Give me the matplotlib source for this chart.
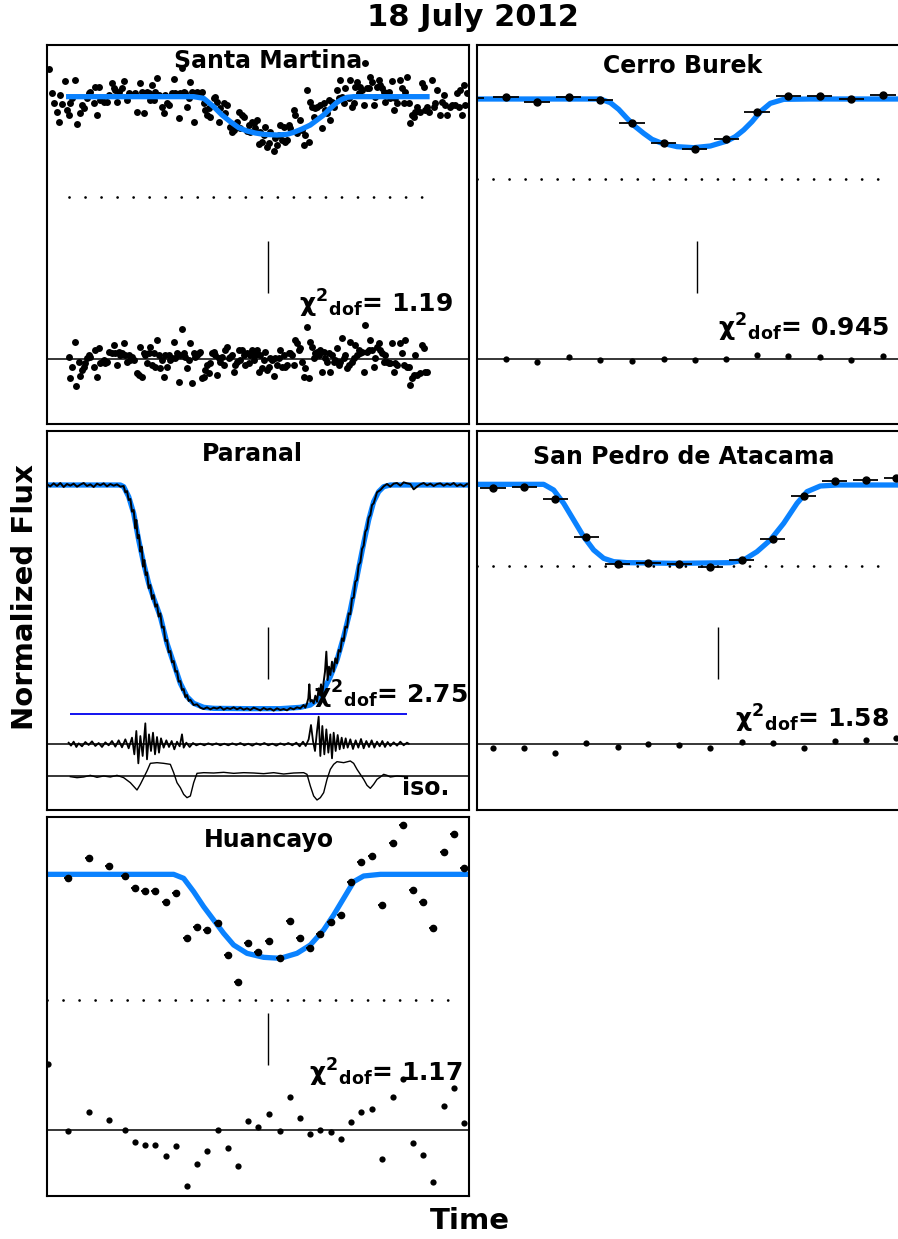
import numpy as np
import matplotlib.pyplot as plt

# time in cadence units, flux offsets in units of ~0.01 % (out-of-transit = 0)

# Santa Martina
sm_data = [(5,83),(15,10),(20,-20),(30,-45),(35,-77),(40,5),(45,-23),(55,47),(60,-40),(65,-55),(70,-20),(75,-5),(85,50),(90,-82),(100,-50),(105,-25),(110,-35),(120,-5),(125,10),(130,15),(140,-20),(145,30),(150,-55),(155,30),(160,-10),(170,-15),(180,-15),(185,5),(195,40),(200,25),(205,20),(210,-15),(215,15),(225,25),(230,47),(240,-10),(245,10),(255,5),(265,10),(270,-45),(280,40),(285,15),(290,-50),(300,15),(305,10),(310,-10),(315,35),(320,-10),(325,15),(330,55),(335,5),(345,-30),(350,-50),(355,5),(360,-20),(365,-25),(375,10),(380,52),(385,10),(395,-65),(400,10),(405,85),(410,15),(415,10),(420,-30),(425,-5),(430,45),(435,15),(440,-77),(450,15),(460,5),(465,15),(470,-20),(475,-40),(480,-55),(485,-35),(490,-60),(500,-5),(505,0),(510,-15),(515,-75),(520,-35),(530,-20),(535,-50),(540,-25),(550,-90),(555,-105),(560,-100),(570,-75),(575,-45),(580,-95),(585,-55),(590,-60),(600,-103),(605,-85),(610,-105),(615,-75),(620,-80),(625,-95),(630,-70),(635,-143),(640,-105),(645,-135),(650,-115),(655,-90),(660,-150),(665,-140),(670,-105),(680,-163),(685,-125),(690,-145),(695,-115),(700,-85),(705,-130),(710,-90),(715,-135),(720,-130),(725,-85),(730,-95),(740,-40),(745,-55),(750,-110),(760,-70),(765,-100),(770,-145),(775,-115),(780,20),(785,-135),(790,-15),(795,-30),(800,-60),(805,-35),(810,-30),(820,-25),(825,-95),(830,-20),(835,-40),(840,-50),(845,-10),(850,-70),(855,-15),(860,-30),(870,20),(875,-5),(880,50),(885,0),(890,-20),(895,25),(905,-5),(910,50),(915,-30),(920,-20),(925,30),(930,45),(935,10),(940,30),(945,20),(950,-25),(955,100),(960,25),(965,25),(970,60),(975,45),(980,-25),(985,0),(990,30),(995,50),(1000,35),(1005,25),(1010,15),(1015,-15),(1020,10),(1025,15),(1030,-5),(1035,47),(1040,-40),(1045,-5),(1050,-20),(1060,50),(1065,25),(1070,-20),(1075,15),(1080,58),(1085,-20),(1090,-80),(1095,-55),(1100,-60),(1105,-45),(1110,-30),(1120,-45),(1125,40),(1130,30),(1135,-40),(1140,-30),(1145,-45),(1155,50),(1160,-30),(1165,-20),(1170,20),(1180,-55),(1185,-15),(1190,5),(1195,-25),(1200,-55),(1210,-30),(1215,-25),(1225,-25),(1230,10),(1235,-30),(1240,20),(1245,-55),(1250,35),(1255,-25),(1260,10)]
sm_resid = [(65,6),(70,-55),(75,-22),(85,53),(88,-80),(95,-7),(100,-50),(105,-32),(110,-22),(115,-12),(120,3),(125,13),(130,8),(140,-22),(145,28),(150,-54),(155,33),(160,-12),(165,-7),(170,-2),(175,-12),(180,-7),(185,23),(195,18),(200,43),(205,18),(210,-17),(215,23),(220,13),(225,18),(230,48),(235,13),(240,-7),(245,13),(250,-2),(255,8),(260,-2),(270,-42),(275,-47),(280,38),(285,-52),(290,18),(295,13),(300,-12),(305,18),(310,38),(315,-17),(320,18),(325,-22),(330,58),(335,13),(340,-27),(345,-2),(350,-52),(355,13),(360,-22),(365,13),(370,-2),(375,3),(380,53),(385,3),(390,18),(395,-67),(400,13),(405,90),(410,18),(415,8),(420,-27),(425,-2),(430,48),(435,-72),(440,18),(445,8),(450,13),(455,18),(460,23),(465,-57),(470,-52),(475,-32),(480,-17),(485,-42),(490,-12),(495,18),(500,23),(505,13),(510,-47),(515,3),(520,-7),(525,8),(530,-17),(535,28),(540,38),(545,3),(550,8),(555,13),(560,-37),(565,-17),(570,-7),(575,28),(580,-2),(585,28),(590,13),(595,-17),(600,18),(605,-12),(610,13),(615,28),(620,-2),(625,13),(630,28),(635,-37),(640,13),(645,-27),(650,-2),(655,23),(660,-32),(665,-22),(670,3),(675,-2),(680,-50),(685,3),(690,-17),(695,3),(700,28),(705,-22),(710,13),(715,-22),(720,-17),(725,18),(730,18),(735,13),(740,-17),(745,58),(750,48),(755,28),(760,33),(765,-7),(770,-52),(775,-27),(780,98),(785,-57),(790,53),(795,38),(800,3),(805,18),(810,23),(815,13),(820,28),(825,-37),(830,23),(835,3),(840,-7),(845,18),(850,-37),(855,13),(860,-7),(865,-2),(870,33),(875,-17),(880,-7),(885,63),(890,3),(895,13),(900,-27),(905,-17),(910,53),(915,-7),(920,3),(925,43),(930,13),(935,28),(940,18),(945,23),(950,-37),(955,103),(960,23),(965,28),(970,58),(975,28),(980,-22),(985,3),(990,38),(995,48),(1000,28),(1005,18),(1010,-7),(1015,13),(1020,-7),(1025,-12),(1030,-12),(1035,48),(1040,-37),(1045,-12),(1050,-17),(1060,48),(1065,18),(1070,-17),(1075,58),(1080,-22),(1085,-22),(1090,-77),(1095,-57),(1100,-47),(1105,13),(1110,-47),(1120,-42),(1125,43),(1130,33),(1135,-37),(1140,-37)]
sm_model = [(65,0),(440,0),(470,-5),(500,-30),(525,-55),(550,-75),(575,-93),(600,-103),(625,-109),(650,-113),(690,-115),(720,-113),(740,-107),(765,-97),(790,-85),(810,-70),(830,-55),(850,-35),(870,-17),(885,-8),(900,-2),(920,0),(1140,0)]

# Cerro Burek
cb_data = [(-18,2),(87,5),(180,-8),(275,7),(370,-4),(465,-71),(560,-131),(653,-150),(748,-121),(840,-38),(934,9),(1028,9),(1123,-1),(1218,11)]
cb_resid = [(87,2),(180,-9),(275,6),(370,-2),(465,-6),(560,1),(653,-2),(748,0),(840,13),(934,9),(1028,7),(1123,-3),(1218,11)]
cb_model = [(0,0),(370,0),(400,-11),(425,-31),(450,-58),(475,-83),(500,-103),(525,-121),(550,-131),(600,-143),(650,-146),(700,-141),(750,-126),(775,-113),(800,-93),(825,-68),(850,-38),(880,-13),(920,-1),(1000,0),(1272,0)]

# Paranal
pa_data = [(0,2),(10,-4),(20,5),(30,-3),(40,6),(50,-6),(60,3),(70,-2),(80,4),(90,-5),(100,1),(110,6),(120,-3),(130,2),(140,-6),(150,4),(160,-1),(170,5),(180,-4),(190,3),(200,-2),(210,2),(220,-5),
           (230,-3),(235,-22),(240,-18),(245,-45),(250,-42),(255,-80),(260,-75),(265,-130),(268,-105),(272,-160),(276,-150),(280,-200),(284,-185),(288,-245),(292,-225),(296,-270),(300,-262),(305,-310),(310,-300),(315,-342),(320,-330),(325,-365),(330,-358),(335,-395),(340,-385),(345,-428),(350,-425),(355,-468),(360,-465),(365,-502),(370,-498),(375,-532),(380,-528),(385,-560),(390,-558),(395,-590),(400,-588),(405,-615),(410,-612),(415,-636),(420,-630),(425,-648),(430,-644),(440,-660),(450,-658),(460,-668),
           (470,-672),(480,-667),(490,-673),(500,-668),(510,-671),(520,-666),(530,-674),(540,-669),(550,-672),(560,-667),(570,-673),(580,-668),(590,-674),(600,-670),(610,-675),(620,-668),(630,-672),(640,-676),(650,-669),(660,-674),(670,-671),(680,-677),(690,-670),(700,-675),(710,-672),(720,-676),(730,-669),(740,-673),(750,-667),(760,-670),
           (770,-660),(775,-668),(780,-655),(784,-640),(787,-598),(790,-650),(795,-645),(800,-655),(805,-632),(810,-650),(815,-610),(818,-630),(822,-598),(826,-628),(830,-590),(834,-560),(838,-500),(842,-585),(846,-545),(850,-570),(855,-530),(860,-560),(865,-520),(870,-535),(875,-495),(880,-500),(885,-460),(890,-468),(895,-425),(900,-428),(905,-385),(910,-388),(915,-340),(920,-338),(925,-290),(930,-285),(935,-240),(940,-232),(945,-192),(950,-182),(955,-140),(960,-132),(965,-98),(970,-90),(975,-60),(980,-55),(990,-22),(1000,-15),
           (1010,-4),(1020,3),(1030,-5),(1040,4),(1050,6),(1060,-2),(1070,8),(1080,5),(1090,3),(1100,-13),(1110,-5),(1120,2),(1130,6),(1140,-1),(1150,4),(1160,-3),(1170,3),(1180,5),(1190,-2),(1200,4),(1210,0),(1220,6),(1230,-3),(1240,2),(1250,-4),(1260,3)]
pa_model = [(0,0),(220,0),(230,-5),(245,-35),(260,-85),(275,-165),(290,-235),(305,-295),(320,-340),(340,-395),(360,-475),(380,-535),(400,-595),(420,-635),(440,-655),(470,-667),(500,-670),(600,-671),(700,-671),(760,-667),(790,-660),(810,-645),(830,-615),(850,-575),(870,-525),(890,-455),(910,-375),(930,-275),(950,-175),(965,-105),(980,-50),(995,-20),(1010,-5),(1030,0),(1266,0)]
pa_resid = [(65,5),(72,-4),(80,8),(88,-8),(95,3),(105,-6),(115,7),(125,-2),(135,9),(145,-5),(155,4),(165,-8),(175,6),(185,-3),(195,10),(205,-7),(215,12),(225,-9),(235,15),(245,-12),(255,20),(262,-30),(268,40),(274,-57),(280,25),(287,-35),(295,63),(300,-45),(306,30),(312,-20),(318,35),(324,-30),(330,22),(336,-25),(342,18),(350,-10),(358,12),(366,-8),(374,10),(382,-15),(390,8),(398,-6),(405,30),(410,-10),(418,5),(428,-8),(438,4),(448,-3),(460,2),(472,-3),(484,3),(496,-2),(508,3),(520,-3),(532,2),(544,-3),(556,3),(568,-2),(580,4),(592,-3),(604,2),(616,-4),(628,3),(640,-2),(652,4),(664,-3),(676,2),(688,-4),(700,3),(712,-2),(724,4),(736,-3),(748,5),(758,-6),(768,8),(776,-5),(785,15),(792,58),(798,10),(804,-20),(810,40),(815,83),(820,-35),(826,55),(832,-30),(838,45),(844,-25),(850,30),(855,-42),(860,35),(866,-20),(872,28),(878,-15),(884,20),(890,-12),(896,18),(902,-10),(910,15),(918,-14),(926,12),(934,-10),(942,16),(950,-12),(958,10),(966,-8),(974,12),(982,-10),(990,8),(998,-6),(1006,10),(1014,-8),(1022,7),(1030,-5),(1040,6),(1050,-4),(1060,8),(1070,-3),(1080,5),(1085,2)]
pa_iso = [(70,-2),(90,-5),(110,-3),(130,2),(150,-4),(170,0),(190,-3),(210,2),(230,-5),(250,-20),(270,-42),(280,-25),(290,-5),(300,15),(310,38),(330,40),(350,38),(370,35),(380,10),(390,-20),(400,-35),(410,-55),(420,-65),(430,-60),(440,-20),(450,8),(470,10),(500,9),(530,11),(560,8),(590,10),(620,9),(650,7),(680,10),(710,6),(740,9),(770,10),(780,5),(790,-30),(800,-60),(810,-72),(820,-65),(830,-50),(840,-10),(850,20),(860,35),(870,43),(890,40),(910,45),(920,38),(930,20),(950,-10),(960,-28),(970,-37),(980,-25),(990,-10),(1000,-3),(1010,5),(1020,2),(1030,-3),(1050,0),(1075,-2)]

# San Pedro de Atacama
sp_data = [(48,-10),(142,-8),(235,-43),(328,-159),(422,-240),(514,-237),(607,-238),(700,-248),(794,-226),(887,-164),(980,-35),(1073,10),(1166,14),(1258,18)]
sp_resid = [(48,-12),(142,-10),(235,-26),(328,3),(422,-7),(514,1),(607,-1),(700,-12),(794,8),(887,3),(980,-12),(1073,11),(1166,14),(1258,19)]
sp_model = [(0,0),(200,0),(230,-17),(260,-57),(290,-107),(320,-157),(350,-197),(380,-222),(410,-232),(450,-235),(600,-237),(760,-235),(800,-227),(840,-202),(880,-167),(920,-117),(960,-57),(990,-22),(1030,-5),(1080,-2),(1272,-2)]

# Huancayo
hu_data = [(63,-10),(125,48),(187,25),(233,-5),(263,-40),(295,-50),(325,-50),(357,-84),(388,-57),(420,-190),(450,-159),(481,-166),(512,-147),(542,-242),(572,-322),(603,-205),(634,-233),(665,-199),(698,-250),(728,-140),(759,-192),(789,-220),(820,-180),(851,-143),(881,-121),(912,-23),(942,38),(974,56),(1006,-93),(1037,94),(1068,149),(1098,-46),(1129,-82),(1159,-161),(1190,68),(1220,122),(1250,18)]
hu_resid = [(2,198),(63,-3),(125,53),(187,29),(233,0),(263,-35),(295,-45),(325,-45),(357,-77),(388,-48),(420,-168),(450,-101),(481,-63),(512,0),(542,-55),(572,-109),(603,26),(634,8),(665,47),(698,-3),(728,98),(759,35),(789,-13),(820,0),(851,-7),(881,-28),(912,24),(942,55),(974,64),(1006,-88),(1037,98),(1068,153),(1098,-40),(1129,-76),(1159,-155),(1190,73),(1220,127),(1250,22)]
hu_model = [(0,0),(380,0),(410,-12),(440,-52),(470,-97),(500,-137),(530,-177),(560,-212),(600,-237),(650,-249),(700,-252),(750,-237),(790,-212),(830,-167),(860,-122),(890,-72),(920,-22),(950,-5),(1000,0),(1266,0)]

chi2 = {'Santa Martina': '1.19', 'Cerro Burek': '0.945', 'Paranal': '2.75',
        'San Pedro de Atacama': '1.58', 'Huancayo': '1.17'}

BLUE = '#0a82ff'
W, H = 898, 1239
fig = plt.figure(figsize=(W / 100, H / 100), dpi=100)


def make_ax(x0, y0, w, top, xmax):
    ax = fig.add_axes([x0 / W, 1 - (y0 + 379) / H, w / W, 379 / H])
    ax.set_xlim(0, xmax)
    ax.set_ylim(top - 1137, top)
    ax.set_xticks([])
    ax.set_yticks([])
    for s in ax.spines.values():
        s.set_linewidth(1.5)
    return ax


def xy(pairs):
    a = np.array(pairs, dtype=float)
    return a[:, 0], a[:, 1]


def chi_text(ax, name, x, y):
    ax.text(x, y, r'$\mathbf{\chi}^{\mathbf{2}}{}_{\mathbf{dof}}$= ' + chi2[name],
            transform=ax.transAxes, ha='right', va='baseline', fontsize=18,
            fontweight='bold')


def dotted(ax, y, x0, x1):
    ax.plot([x0, x1], [y, y], color='k', lw=2, linestyle=(0, (0.01, 5.76)),
            dash_capstyle='round')


def zero(ax, y):
    ax.axhline(y, color='k', lw=1.1)


# ---- Santa Martina
ax = make_ax(47, 45, 422, 155, 1266)
t, f = xy(sm_data)
ax.plot(t, f, 'o', color='k', ms=5, mec='none', zorder=2)
t, f = xy(sm_model)
ax.plot(t, f, color=BLUE, lw=3.8, zorder=3)
dotted(ax, -301, 65, 1140)
ax.vlines(663, -589, -433, color='k', lw=1)
zero(ax, -788)
t, r = xy(sm_resid)
ax.plot(t, r - 788, 'o', color='k', ms=5, mec='none')
ax.text(0.524, 0.958, 'Santa Martina', transform=ax.transAxes, ha='center', va='center',
        fontsize=17, fontweight='bold')
chi_text(ax, 'Santa Martina', 0.963, 0.293)

# ---- Cerro Burek
ax = make_ax(477, 45, 424, 162, 1272)
t, f = xy(cb_model)
ax.plot(t, f, color=BLUE, lw=3.8)
t, f = xy(cb_data)
ax.errorbar(t, f, xerr=38, fmt='o', color='k', ms=5, elinewidth=1.3, capsize=0)
dotted(ax, -240, 0, 1224)
ax.vlines(660, -582, -426, color='k', lw=1)
zero(ax, -781)
t, r = xy(cb_resid)
ax.plot(t, r - 781, 'o', color='k', ms=4.5, mec='none')
ax.text(0.486, 0.945, 'Cerro Burek', transform=ax.transAxes, ha='center', va='center',
        fontsize=17, fontweight='bold')
chi_text(ax, 'Cerro Burek', 0.972, 0.23)

# ---- Paranal
ax = make_ax(47, 431, 422, 162, 1266)
t, f = xy(pa_model)
ax.plot(t, f, color=BLUE, lw=3.8)
t, f = xy(pa_data)
ax.plot(t, f, color='k', lw=1.4)
ax.hlines(-687, 68, 1080, color='#0000ee', lw=1.3)
ax.vlines(663, -582, -426, color='k', lw=1)
zero(ax, -778)
zero(ax, -873)
t, r = xy(pa_resid)
ax.plot(t, r - 778, color='k', lw=1.3)
t, r = xy(pa_iso)
ax.plot(t, r - 873, color='k', lw=1.0)
ax.text(0.486, 0.939, 'Paranal', transform=ax.transAxes, ha='center', va='center',
        fontsize=17, fontweight='bold')
ax.text(0.841, 0.04, 'iso.', transform=ax.transAxes, ha='left', va='baseline',
        fontsize=17, fontweight='bold')
chi_text(ax, 'Paranal', 0.998, 0.282)

# ---- San Pedro de Atacama
ax = make_ax(477, 431, 424, 160, 1272)
t, f = xy(sp_model)
ax.plot(t, f, color=BLUE, lw=3.8)
t, f = xy(sp_data)
ax.errorbar(t, f, xerr=38, fmt='o', color='k', ms=5, elinewidth=1.3, capsize=0)
dotted(ax, -244, 0, 1224)
ax.vlines(723, -584, -428, color='k', lw=1)
zero(ax, -780)
t, r = xy(sp_resid)
ax.plot(t, r - 780, 'o', color='k', ms=4.5, mec='none')
ax.text(0.488, 0.931, 'San Pedro de Atacama', transform=ax.transAxes, ha='center',
        va='center', fontsize=17, fontweight='bold')
chi_text(ax, 'San Pedro de Atacama', 0.972, 0.218)

# ---- Huancayo
ax = make_ax(47, 817, 422, 172, 1266)
t, f = xy(hu_model)
ax.plot(t, f, color=BLUE, lw=3.8)
t, f = xy(hu_data)
ax.errorbar(t, f, xerr=12, fmt='o', color='k', ms=4.5, elinewidth=1.3, capsize=0)
dotted(ax, -377, 0, 1224)
ax.vlines(663, -572, -416, color='k', lw=1)
zero(ax, -767)
t, r = xy(hu_resid)
ax.plot(t, r - 767, 'o', color='k', ms=4.5, mec='none')
ax.text(0.526, 0.939, 'Huancayo', transform=ax.transAxes, ha='center', va='center',
        fontsize=17, fontweight='bold')
chi_text(ax, 'Huancayo', 0.986, 0.301)

fig.text(0.527, 1 - 17 / H, '18 July 2012', ha='center', va='center', fontsize=22,
         fontweight='bold')
fig.text(25 / W, 1 - 597 / H, 'Normalized Flux', ha='center', va='center', rotation=90,
         fontsize=21, fontweight='bold')
fig.text(470 / W, 1 - 1221 / H, 'Time', ha='center', va='center', fontsize=21,
         fontweight='bold')

fig.savefig('out.png', dpi=100)
